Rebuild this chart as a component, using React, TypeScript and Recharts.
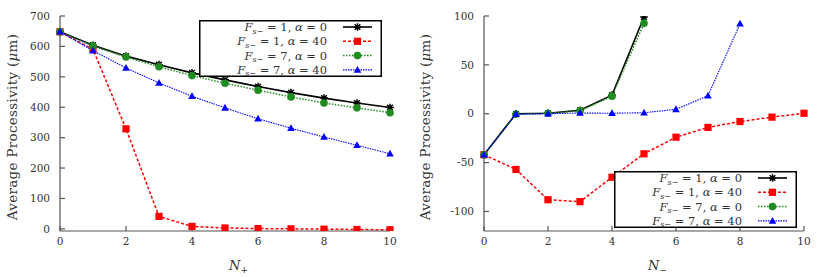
import React from 'react';
import { LineChart, Line, XAxis, YAxis, Legend } from 'recharts';

// N values on the x axis
const nValues = [0, 1, 2, 3, 4, 5, 6, 7, 8, 9, 10];
const xTicks = [0, 2, 4, 6, 8, 10];

// left panel: N+
const plusBlack = [648, 604, 568, 540, 513, 490, 468, 448, 430, 414, 399];
const plusRed = [648, 590, 329, 41, 8, 3, 1, 0, -1, -2, -3];
const plusGreen = [648, 601, 565, 533, 504, 479, 456, 434, 414, 398, 382];
const plusBlue = [648, 586, 529, 480, 436, 398, 362, 331, 302, 275, 247];
const plusTicks = [0, 100, 200, 300, 400, 500, 600, 700];

// right panel: N-
const minusBlack = [-42, 0, 0.5, 3.5, 19, 99];
const minusRed = [-42, -57, -88, -90, -65, -41, -24, -14, -8, -3.5, 0.5];
const minusGreen = [-42, -0.5, 0.5, 3, 18, 92.5];
const minusBlue = [-42, -0.5, 0, 0.7, 0.5, 1, 4.5, 18.5, 92];
const minusTicks = [-100, -50, 0, 50, 100];

const FONT = 'DejaVu Serif';
const TEXT = '#333';
const FRAME = '#555';

const toRows = (b: number[], r: number[], g: number[], bl: number[]) =>
  nValues.map((n, i) => ({ n, black: b[i], red: r[i], green: g[i], blue: bl[i] }));

const Star = (p: any) => {
  const { cx, cy } = p;
  if (cx == null || cy == null) return <g key={`st${p.index}`} />;
  const r = 3.8, d = 2.8;
  return (
    <path key={`st${p.index}`} stroke="#000" strokeWidth={1.5} fill="none"
      d={`M${cx - r},${cy}H${cx + r}M${cx},${cy - r}V${cy + r}M${cx - d},${cy - d}L${cx + d},${cy + d}M${cx - d},${cy + d}L${cx + d},${cy - d}`} />
  );
};
const Square = (p: any) => {
  const { cx, cy } = p;
  if (cx == null || cy == null) return <g key={`sq${p.index}`} />;
  return <rect key={`sq${p.index}`} x={cx - 3.6} y={cy - 3.6} width={7.2} height={7.2} fill="#ff0000" />;
};
const Circle = (p: any) => {
  const { cx, cy } = p;
  if (cx == null || cy == null) return <g key={`ci${p.index}`} />;
  return <circle key={`ci${p.index}`} cx={cx} cy={cy} r={3.8} fill="#1f8c1f" />;
};
const Tri = (p: any) => {
  const { cx, cy } = p;
  if (cx == null || cy == null) return <g key={`tr${p.index}`} />;
  return <path key={`tr${p.index}`} d={`M${cx},${cy - 4}L${cx + 3.8},${cy + 2.8}L${cx - 3.8},${cy + 2.8}Z`} fill="#0000ff" />;
};

const series = [
  { key: 'black', fs: '1', alpha: '0', color: '#000', width: 1.6, dash: undefined, dot: Star },
  { key: 'red', fs: '1', alpha: '40', color: '#ff0000', width: 1.5, dash: '3 2', dot: Square },
  { key: 'green', fs: '7', alpha: '0', color: '#1f8c1f', width: 1.5, dash: '1.5 1.5', dot: Circle },
  { key: 'blue', fs: '7', alpha: '40', color: '#0000ff', width: 1.1, dash: '1.5 1', dot: Tri },
];

const LegendBox = () => (
  <svg width={183} height={57} style={{ display: 'block' }}>
    <rect x={0.75} y={0.75} width={181.5} height={55.5} fill="#fff" stroke="#000" strokeWidth={1.5} />
    {series.map((s, i) => {
      const cy = 7 + i * 14.3;
      const Dot = s.dot;
      return (
        <g key={s.key}>
          <text x={128} y={cy + 4} textAnchor="end" fontFamily={FONT} fontSize={11.5} fill={TEXT}>
            <tspan fontStyle="italic">F</tspan>
            <tspan fontStyle="italic" fontSize={8} dy={2.5}>s−</tspan>
            <tspan dy={-2.5}> = {s.fs}, </tspan>
            <tspan fontStyle="italic">α</tspan>
            <tspan> = {s.alpha}</tspan>
          </text>
          <line x1={144} x2={173} y1={cy} y2={cy} stroke={s.color} strokeWidth={s.width} strokeDasharray={s.dash} />
          {Dot({ cx: 158.5, cy, index: i })}
        </g>
      );
    })}
  </svg>
);

type PanelProps = {
  rows: any[];
  yDomain: [number, number];
  yTicks: number[];
  axisWidth: number;
  marginRight: number;
  sub: string;
  legendTop: number;
  left: number;
  titleX: number;
};

const Panel = ({ rows, yDomain, yTicks, axisWidth, marginRight, sub, legendTop, left, titleX }: PanelProps) => {
  const plotLeft = axisWidth;
  const plotRight = 415 - marginRight;
  const tickStyle = { fill: TEXT, fontSize: 10.5, fontFamily: FONT };
  return (
    <div style={{ position: 'absolute', left, top: 0, fontFamily: FONT }}>
      <LineChart width={415} height={277} data={rows} margin={{ top: 16, right: marginRight, bottom: 0, left: 0 }}>
        <XAxis dataKey="n" type="number" domain={[0, 10]} ticks={xTicks} height={46}
          tickSize={-5} tickMargin={12} stroke={FRAME} strokeWidth={1.2} tick={tickStyle}
          label={{
            content: () => (
              <text x={(plotLeft + plotRight) / 2 + 4} y={270} fontFamily={FONT} fontSize={13} fill={TEXT}>
                <tspan fontStyle="italic">N</tspan>
                <tspan fontSize={9} dy={3}>{sub}</tspan>
              </text>
            ),
          }} />
        <XAxis xAxisId="top" orientation="top" dataKey="n" type="number" domain={[0, 10]} ticks={xTicks}
          height={0} tickSize={-5} tick={false} stroke={FRAME} strokeWidth={1.2} />
        <YAxis type="number" domain={yDomain} ticks={yTicks} allowDataOverflow width={axisWidth}
          tickSize={-5} tickMargin={15} stroke={FRAME} strokeWidth={1.2} tick={tickStyle}
          label={{
            content: () => (
              <text x={titleX} y={127} transform={`rotate(-90 ${titleX} 127)`} textAnchor="middle"
                dominantBaseline="central" fontFamily={FONT} fontSize={13.5} letterSpacing={0.3} fill={TEXT}>
                Average Processivity (<tspan fontStyle="italic">μ</tspan>m)
              </text>
            ),
          }} />
        <YAxis yAxisId="right" orientation="right" type="number" domain={yDomain} ticks={yTicks} allowDataOverflow
          width={0} tickSize={-5} tick={false} stroke={FRAME} strokeWidth={1.2} />
        <Legend layout="vertical" align="center" verticalAlign="middle" content={() => <LegendBox />}
          wrapperStyle={{ left: 199, top: legendTop, width: 183, height: 57 }} />
        {series.map((s) => (
          <Line key={s.key} dataKey={s.key} stroke={s.color} strokeWidth={s.width} strokeDasharray={s.dash}
            dot={s.dot} activeDot={false} isAnimationActive={false} />
        ))}
      </LineChart>
    </div>
  );
};

export default function App() {
  return (
    <div style={{ position: 'absolute', left: 0, top: 0, width: 830, height: 277, background: '#fff' }}>
      <Panel rows={toRows(plusBlack, plusRed, plusGreen, plusBlue)} yDomain={[-7, 700]} yTicks={plusTicks}
        axisWidth={60} marginRight={25} sub="+" legendTop={20} left={0} titleX={12} />
      <Panel rows={toRows(minusBlack, minusRed, minusGreen, minusBlue)} yDomain={[-120, 100]} yTicks={minusTicks}
        axisWidth={69} marginRight={26} sub="−" legendTop={171} left={415} titleX={10} />
    </div>
  );
}
